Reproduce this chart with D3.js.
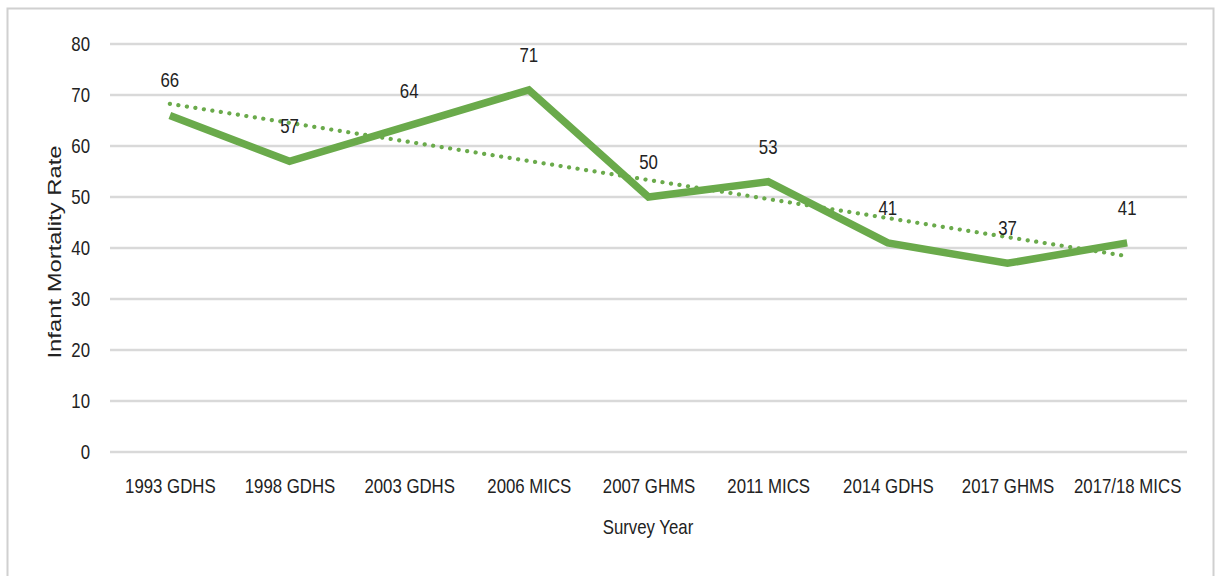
<!DOCTYPE html>
<html>
<head>
<meta charset="utf-8">
<script src="https://cdn.jsdelivr.net/npm/d3@7"></script>
<style>
  body { margin: 0; background: #fff; }
  svg text { fill: #222; }
</style>
</head>
<body>
<script>
var surveys = ["1993 GDHS", "1998 GDHS", "2003 GDHS", "2006 MICS", "2007 GHMS",
               "2011 MICS", "2014 GDHS", "2017 GHMS", "2017/18 MICS"];
var infantMortality = [66, 57, 64, 71, 50, 53, 41, 37, 41];
var yTicks = [0, 10, 20, 30, 40, 50, 60, 70, 80];

var width = 1218, height = 576;
var plotLeft = 110, plotRight = 1187, plotTop = 44, plotBottom = 452;
var font = "'Liberation Sans', Arial, sans-serif";
var green = "#6aaa4b";
var squeeze = "scale(0.84,1.04)";

var svg = d3.select("body").append("svg")
  .attr("width", width)
  .attr("height", height);

// outer frame
svg.append("rect")
  .attr("x", 7.5).attr("y", 8.5)
  .attr("width", 1206).attr("height", 580)
  .attr("fill", "none")
  .attr("stroke", "#d0d0d0")
  .attr("stroke-width", 2);

var x = d3.scalePoint()
  .domain(surveys)
  .range([plotLeft, plotRight])
  .padding(0.5);

var y = d3.scaleLinear()
  .domain([0, 80])
  .range([plotBottom, plotTop]);

// gridlines
svg.append("g").selectAll("line")
  .data(yTicks)
  .enter().append("line")
  .attr("x1", plotLeft).attr("x2", plotRight)
  .attr("y1", function (d) { return y(d); })
  .attr("y2", function (d) { return y(d); })
  .attr("stroke", "#d9d9d9")
  .attr("stroke-width", 2.5);

// y axis labels
var yAxis = svg.append("g")
  .attr("transform", "translate(" + (plotLeft - 20) + ",0)")
  .call(d3.axisLeft(y).tickValues(yTicks).tickSize(0).tickPadding(0));
yAxis.select(".domain").remove();
yAxis.selectAll("text")
  .attr("transform", squeeze)
  .style("font-family", font)
  .style("font-size", "20px")
  .attr("fill", "#222");

// x axis labels
var xAxis = svg.append("g")
  .attr("transform", "translate(0," + plotBottom + ")")
  .call(d3.axisBottom(x).tickSize(0).tickPadding(25));
xAxis.select(".domain").remove();
xAxis.selectAll("text")
  .attr("transform", squeeze)
  .style("font-family", font)
  .style("font-size", "20px")
  .attr("fill", "#222");

// axis titles
svg.append("text")
  .attr("transform", "translate(61,252) rotate(-90)")
  .attr("text-anchor", "middle")
  .attr("textLength", 213)
  .attr("lengthAdjust", "spacingAndGlyphs")
  .style("font-family", font)
  .style("font-size", "19px")
  .text("Infant Mortality Rate");

svg.append("g")
  .attr("transform", "translate(648,534)")
  .append("text")
  .attr("transform", squeeze)
  .attr("text-anchor", "middle")
  .style("font-family", font)
  .style("font-size", "20px")
  .text("Survey Year");

// linear trendline (least squares over category index)
var n = infantMortality.length;
var mx = d3.mean(d3.range(n));
var my = d3.mean(infantMortality);
var slope = d3.sum(infantMortality, function (v, i) { return (i - mx) * (v - my); }) /
            d3.sum(d3.range(n), function (i) { return (i - mx) * (i - mx); });
var intercept = my - slope * mx;

svg.append("line")
  .attr("x1", x(surveys[0])).attr("y1", y(intercept))
  .attr("x2", x(surveys[n - 1])).attr("y2", y(intercept + slope * (n - 1)))
  .attr("stroke", green)
  .attr("stroke-width", 4.2)
  .attr("stroke-linecap", "round")
  .attr("stroke-dasharray", "0.1 8.5");

// main line
var line = d3.line()
  .x(function (d, i) { return x(surveys[i]); })
  .y(function (d) { return y(d); });

svg.append("path")
  .datum(infantMortality)
  .attr("d", line)
  .attr("fill", "none")
  .attr("stroke", green)
  .attr("stroke-width", 7.5)
  .attr("stroke-linejoin", "miter");

// data labels
svg.append("g").selectAll("g")
  .data(infantMortality)
  .enter().append("g")
  .attr("transform", function (d, i) {
    return "translate(" + x(surveys[i]) + "," + (y(d) - 28) + ")";
  })
  .append("text")
  .attr("transform", squeeze)
  .attr("text-anchor", "middle")
  .style("font-family", font)
  .style("font-size", "20px")
  .text(function (d) { return d; });
</script>
</body>
</html>
